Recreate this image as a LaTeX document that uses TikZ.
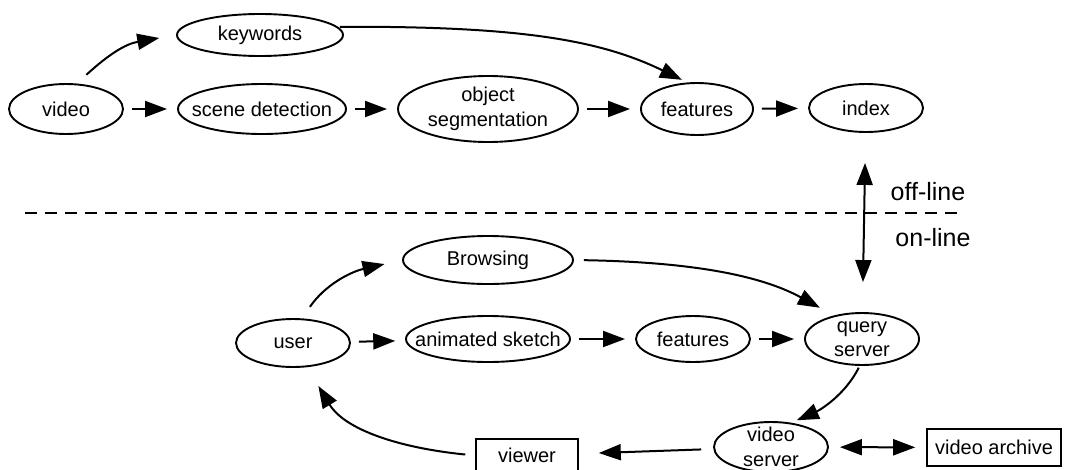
\documentclass[tikz,border=0pt]{standalone}
\usepackage{fontspec}
\setmainfont{Liberation Sans}
\usetikzlibrary{arrows.meta,shapes.geometric}

\begin{document}
\begin{tikzpicture}[x=1pt,y=-1pt,
  every node/.style={font=\fontsize{20}{24.5}\selectfont},
  oval/.style={draw, ellipse, line width=1.9pt, inner sep=-40pt, align=center},
  boxed/.style={draw, rectangle, line width=1.6pt, inner sep=0pt, align=center},
  arr/.style={line width=2pt, -{Triangle[length=22pt,width=16pt]}},
  dbl/.style={line width=2pt, {Triangle[length=22pt,width=16pt]}-{Triangle[length=22pt,width=16pt]}},
  gap/.style={shorten <=8pt, shorten >=10pt},
  lbl/.style={inner sep=0pt, font=\fontsize{25}{30}\selectfont}
]
\useasboundingbox (0,0) rectangle (1067,469);

% off-line processing chain
\node[oval, minimum width=114pt, minimum height=50pt] (video)  at (66,109)  {video};
\node[oval, minimum width=166pt, minimum height=42pt] (kw)     at (260,35)  {keywords};
\node[oval, minimum width=168pt, minimum height=50pt] (scene)  at (262,109) {scene detection};
\node[oval, minimum width=180pt, minimum height=66pt] (objseg) at (488,109) {object\\segmentation};
\node[oval, minimum width=112pt, minimum height=52pt] (feat1)  at (697,109) {features};
\node[oval, minimum width=114pt, minimum height=48pt] (index)  at (866,108) {index};

\draw[arr, shorten <=13pt, shorten >=17pt] (video.67) .. controls (108,55) and (125,44) .. (kw.west);
\draw[arr, shorten <=2pt, shorten >=6pt] (kw.6) .. controls (520,26) and (600,40) .. (feat1.110);
\draw[arr, gap] (video) -- (scene);
\draw[arr, gap] (scene) -- (objseg);
\draw[arr, gap] (objseg) -- (feat1);
\draw[arr, gap] (feat1) -- (index);

% boundary between off-line and on-line parts
\coordinate (dl) at (25,213);
\coordinate (dr) at (957,213);
\draw[line width=1.5pt, dash pattern=on 12pt off 8pt] (dl) -- (dr);
\node[lbl] (offl) at (928,192) {off-line};
\node[lbl] (onl)  at (933,238) {on-line};

% on-line query loop
\node[oval, minimum width=114pt, minimum height=48pt] (user)    at (293,343) {user};
\node[oval, minimum width=170pt, minimum height=48pt] (browse)  at (488,260) {Browsing};
\node[oval, minimum width=164pt, minimum height=46pt] (sketch)  at (488,339) {animated sketch};
\node[oval, minimum width=114pt, minimum height=46pt] (feat2)   at (693,339) {features};
\node[oval, minimum width=114pt, minimum height=52pt] (query)   at (862,339) {query\\server};
\node[oval, minimum width=114pt, minimum height=50pt] (vserver) at (771,447) {video\\server};
\node[boxed, minimum width=102pt, minimum height=33pt] (viewer)  at (527,455.5) {viewer};
\node[boxed, minimum width=134pt, minimum height=37pt] (archive) at (994,447.5) {video archive};

\draw[dbl, shorten <=30pt, shorten >=30pt] (query) -- (index);

\draw[arr, shorten <=14pt, shorten >=18pt] (user.70) .. controls (325,285) and (350,272) .. (browse.west);
\draw[arr, gap] (user) -- (sketch);
\draw[arr, gap] (sketch) -- (feat2);
\draw[arr, gap] (feat2) -- (query);
\draw[arr, shorten <=10pt, shorten >=16pt] (browse.east) .. controls (690,262) and (760,275) .. (query.140);
\draw[arr, shorten <=2pt, shorten >=6pt] (query.265) .. controls (845,395) and (820,410) .. (vserver.50);
\draw[arr, shorten <=12pt, shorten >=20pt] (vserver) -- (viewer);
\draw[dbl, shorten <=11pt, shorten >=11pt] (vserver) -- (archive);
\draw[arr, shorten <=10pt, shorten >=22pt] (viewer.west) .. controls (400,448) and (345,430) .. (user.300);
\end{tikzpicture}
\end{document}
